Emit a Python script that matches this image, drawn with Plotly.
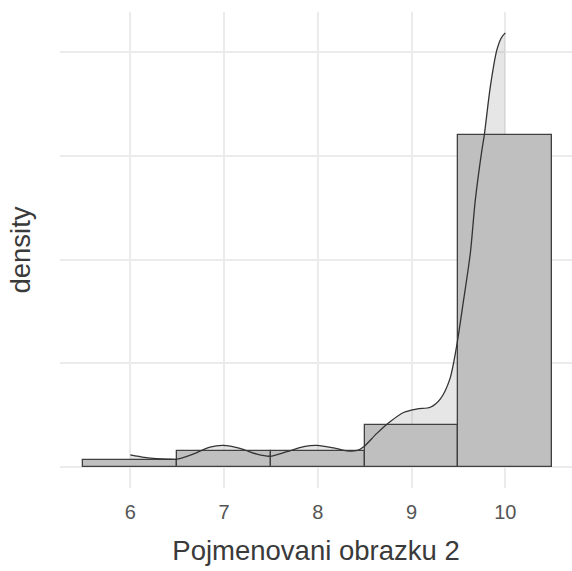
import plotly.graph_objects as go

# Histogram (bin width 1, density scale)
bin_centers = [6, 7, 8, 9, 10]
bin_density = [0.018, 0.038, 0.038, 0.101, 0.801]

# Kernel density curve
dens_x = [6.0, 6.15, 6.28, 6.4, 6.5, 6.67, 6.85, 6.99, 7.17, 7.35, 7.49, 7.67, 7.85, 7.99,
          8.17, 8.31, 8.42, 8.49, 8.63, 8.77, 8.92, 9.06, 9.2, 9.31, 9.41, 9.48, 9.555,
          9.627, 9.68, 9.75, 9.776, 9.84, 9.91, 9.96, 10.0]
dens_y = [0.029, 0.023, 0.020, 0.019, 0.019, 0.031, 0.048, 0.052, 0.045, 0.031, 0.026, 0.037,
          0.049, 0.052, 0.046, 0.039, 0.040, 0.049, 0.081, 0.109, 0.132, 0.140, 0.144, 0.165,
          0.213, 0.29, 0.402, 0.515, 0.643, 0.763, 0.80, 0.916, 1.005, 1.035, 1.046]

x_ticks = [6, 7, 8, 9, 10]
y_grid = [0, 0.25, 0.5, 0.75, 1.0]

xr = [5.25, 10.7115]
yr = [-0.0506, 1.0964]

fig = go.Figure()
fig.add_trace(go.Scatter(x=dens_x, y=dens_y, mode="none", fill="tozeroy",
                         fillcolor="rgba(128,128,128,0.2)", line_shape="spline",
                         xaxis="x", yaxis="y", hoverinfo="skip", showlegend=False))
fig.add_trace(go.Bar(x=bin_centers, y=bin_density, width=1,
                     marker=dict(color="#bfbfbf", line=dict(color="#404040", width=1.3)),
                     xaxis="x", yaxis="y2", showlegend=False))
fig.add_trace(go.Scatter(x=dens_x, y=dens_y, mode="lines",
                         line=dict(color="#333333", width=1.3, shape="spline", smoothing=0.8),
                         xaxis="x", yaxis="y2", showlegend=False))

fig.update_layout(
    width=572, height=571,
    margin=dict(l=60, r=0, t=12, b=83),
    plot_bgcolor="white", paper_bgcolor="white",
    font=dict(family="Liberation Sans, Arial, sans-serif", color="#4d4d4d"),
    bargap=0,
    xaxis=dict(range=xr, tickvals=x_ticks, ticktext=[str(v) for v in x_ticks],
               showgrid=True, gridcolor="#ebebeb", gridwidth=1.6, zeroline=False,
               showline=False, ticks="", tickfont=dict(size=20, color="#555555"),
               ticklabelstandoff=10,
               title=dict(text="Pojmenovani obrazku 2", font=dict(size=27.5, color="#3a3a3a"),
                          standoff=18)),
    yaxis=dict(range=yr, tickvals=y_grid, showticklabels=False, showgrid=True,
               gridcolor="#ebebeb", gridwidth=1.6, zeroline=False, showline=False, ticks="",
               title=dict(text="density", font=dict(size=27.5, color="#3a3a3a"), standoff=20)),
    yaxis2=dict(range=yr, overlaying="y", visible=False, showgrid=False, zeroline=False),
)

fig.write_html("out.html")
